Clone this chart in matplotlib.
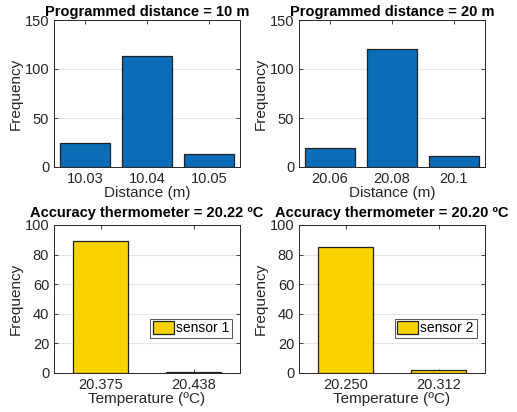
import matplotlib.pyplot as plt
import numpy as np

plt.rcParams['font.family'] = ['Liberation Sans', 'DejaVu Sans']

# data
dist10_labels = ['10.03', '10.04', '10.05']
dist10_counts = [24, 113, 13]
dist20_labels = ['20.06', '20.08', '20.1']
dist20_counts = [19, 120, 11]
temp1_labels = ['20.375', '20.438']
temp1_counts = [89, 1]
temp2_labels = ['20.250', '20.312']
temp2_counts = [85, 2]

blue = '#0B6DB7'
yellow = '#F9D200'
txt = '#262626'

fig = plt.figure(figsize=(5.17, 4.12), dpi=100)
W, H = 517, 412


def make_ax(x0, y0, x1, y1):
    return fig.add_axes([x0 / W, 1 - y1 / H, (x1 - x0) / W, (y1 - y0) / H])


def style(ax, labels, ymax, yticks, xlabel, title, tpad):
    n = len(labels)
    ax.set_xlim(0.5, n + 0.5)
    ax.set_ylim(0, ymax)
    ax.set_xticks(np.arange(1, n + 1))
    ax.set_xticklabels(labels)
    ax.set_yticks(yticks)
    ax.tick_params(direction='in', top=True, right=True, length=3,
                   width=0.6, labelsize=10.5, colors=txt, pad=3.5)
    ax.yaxis.grid(True, color='#e6e6e6', linewidth=0.8)
    ax.set_axisbelow(True)
    for s in ax.spines.values():
        s.set_color(txt)
        s.set_linewidth(0.7)
    ax.set_xlabel(xlabel, fontsize=11, color=txt, labelpad=0)
    ax.set_ylabel('Frequency', fontsize=11, color=txt, labelpad=1)
    ax.set_title(title, fontsize=10.5, fontweight='bold', color='black', pad=tpad)


ax1 = make_ax(54, 20, 240, 167)
ax1.bar(np.arange(1, 4), dist10_counts, width=0.8, color=blue,
        edgecolor='#222222', linewidth=0.9)
style(ax1, dist10_labels, 150, [0, 50, 100, 150], 'Distance (m)',
      'Programmed distance = 10 m', 3)

ax2 = make_ax(299, 20, 485, 167)
ax2.bar(np.arange(1, 4), dist20_counts, width=0.8, color=blue,
        edgecolor='#222222', linewidth=0.9)
style(ax2, dist20_labels, 150, [0, 50, 100, 150], 'Distance (m)',
      'Programmed distance = 20 m', 3)

ax3 = make_ax(54, 225, 240, 373)
ax3.bar(np.arange(1, 3), temp1_counts, width=0.6, color=yellow,
        edgecolor='#222222', linewidth=0.9, label='sensor 1')
style(ax3, temp1_labels, 100, [0, 20, 40, 60, 80, 100], 'Temperature (ºC)',
      'Accuracy thermometer = 20.22 ºC', 6)

ax4 = make_ax(299, 225, 485, 373)
ax4.bar(np.arange(1, 3), temp2_counts, width=0.6, color=yellow,
        edgecolor='#222222', linewidth=0.9, label='sensor 2')
style(ax4, temp2_labels, 100, [0, 20, 40, 60, 80, 100], 'Temperature (ºC)',
      'Accuracy thermometer = 20.20 ºC', 6)

for ax in (ax3, ax4):
    leg = ax.legend(loc='lower right', bbox_to_anchor=(0.955, 0.235),
                    fontsize=10, fancybox=False, handlelength=1.5,
                    handleheight=1.0, handletextpad=0.15, borderpad=0.2,
                    borderaxespad=0)
    leg.get_frame().set_edgecolor(txt)
    leg.get_frame().set_linewidth(0.7)

fig.savefig('out.png', dpi=100)
